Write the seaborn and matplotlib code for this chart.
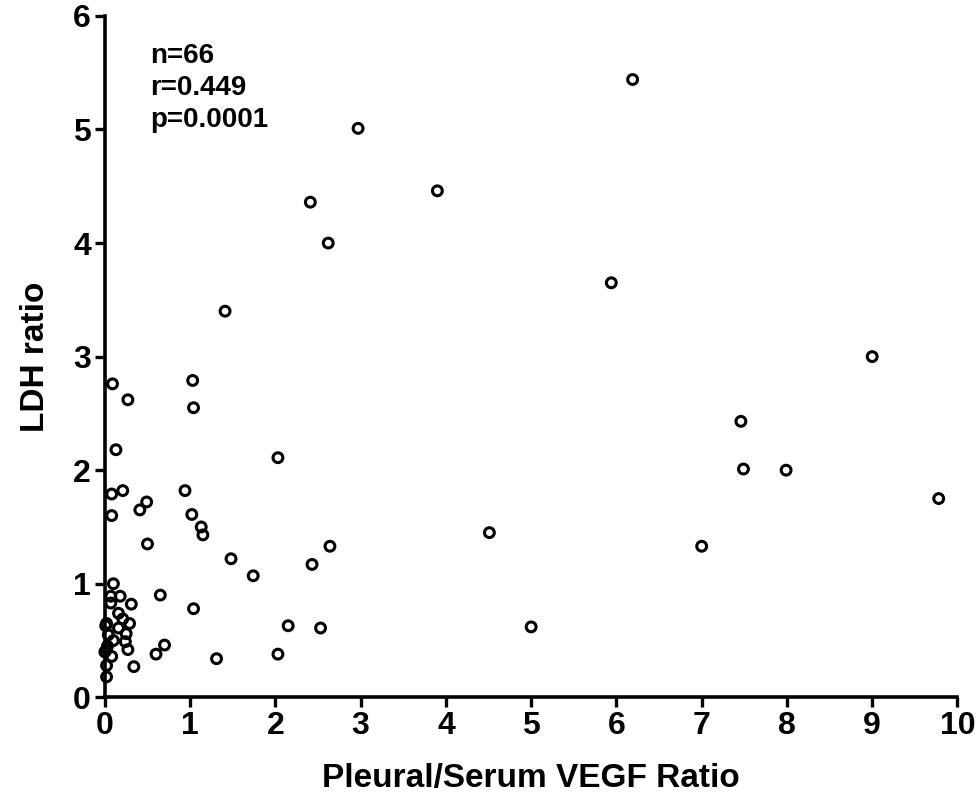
"""
Scatter of LDH ratio against pleural/serum VEGF ratio (Prism-style figure).
Saves out.png
"""

import pandas as pd
import matplotlib.pyplot as plt
import seaborn as sns

# ── data ─────────────────────────────────────────────────────────────────────
vegf_ratio = [
    6.19, 2.97, 3.90, 2.41, 2.62, 5.94, 1.41, 9.00, 7.46, 7.49,
    7.99, 9.78, 7.00, 4.51, 5.00,
    0.09, 0.27, 1.03, 1.04, 0.13, 2.03, 0.08, 0.21, 0.94, 0.49,
    0.41, 0.08, 1.02, 1.13, 1.15, 0.50, 1.48, 1.74, 2.64, 2.43,
    1.04, 2.15, 2.53, 2.03, 1.31, 0.65, 0.70, 0.60,
    0.10, 0.07, 0.18, 0.07, 0.31, 0.16, 0.21, 0.02, 0.29, 0.16,
    0.25, 0.10, 0.24, 0.02, 0.27, 0.08, 0.02, 0.34, 0.02,
    0.01, 0.03, 0.04, 0.00,
]
ldh_ratio = [
    5.44, 5.01, 4.46, 4.36, 4.00, 3.65, 3.40, 3.00, 2.43, 2.01,
    2.00, 1.75, 1.33, 1.45, 0.62,
    2.76, 2.62, 2.79, 2.55, 2.18, 2.11, 1.79, 1.82, 1.82, 1.72,
    1.65, 1.60, 1.61, 1.50, 1.43, 1.35, 1.22, 1.07, 1.33, 1.17,
    0.78, 0.63, 0.61, 0.38, 0.34, 0.90, 0.46, 0.38,
    1.00, 0.89, 0.89, 0.83, 0.82, 0.74, 0.69, 0.65, 0.65, 0.61,
    0.56, 0.50, 0.49, 0.42, 0.42, 0.36, 0.28, 0.27, 0.18,
    0.63, 0.45, 0.55, 0.40,
]
stats_text = ["n=66", "r=0.449", "p=0.0001"]
x_ticks = list(range(0, 11))
y_ticks = list(range(0, 7))

df = pd.DataFrame({"vegf": vegf_ratio, "ldh": ldh_ratio})

# ── style ────────────────────────────────────────────────────────────────────
sns.set_style("ticks")
plt.rcParams["font.family"] = ["Liberation Sans", "DejaVu Sans"]
plt.rcParams["font.weight"] = "bold"
plt.rcParams["text.color"] = "black"
plt.rcParams["axes.labelcolor"] = "black"
plt.rcParams["xtick.color"] = "black"
plt.rcParams["ytick.color"] = "black"

fig = plt.figure(figsize=(9.8, 7.96), dpi=100)
ax = fig.add_axes([0.107, 0.124, 0.870, 0.856])

sns.scatterplot(data=df, x="vegf", y="ldh", ax=ax, marker="o", s=50,
                facecolors="none", edgecolors="black", linewidths=2.2,
                clip_on=False, zorder=3)

ax.set_xlim(0, 10)
ax.set_ylim(0, 6)
ax.set_xticks(x_ticks)
ax.set_yticks(y_ticks)
ax.tick_params(axis="both", direction="out", length=7, width=2.4,
               labelsize=23, pad=3, colors="black")
for lab in ax.get_xticklabels() + ax.get_yticklabels():
    lab.set_fontweight("bold")

for side in ("left", "bottom"):
    ax.spines[side].set_linewidth(2.6)
    ax.spines[side].set_color("black")
for side in ("top", "right"):
    ax.spines[side].set_visible(False)

ax.set_xlabel("Pleural/Serum VEGF Ratio", fontsize=24, fontweight="bold",
              labelpad=16, color="black")
ax.set_ylabel("LDH ratio", fontsize=24, fontweight="bold",
              labelpad=16, color="black")

ax.text(0.53, 5.76, "\n".join(stats_text), fontsize=20, fontweight="bold",
        va="top", ha="left", linespacing=1.3, color="black")

plt.savefig("out.png", dpi=100)
plt.close()
